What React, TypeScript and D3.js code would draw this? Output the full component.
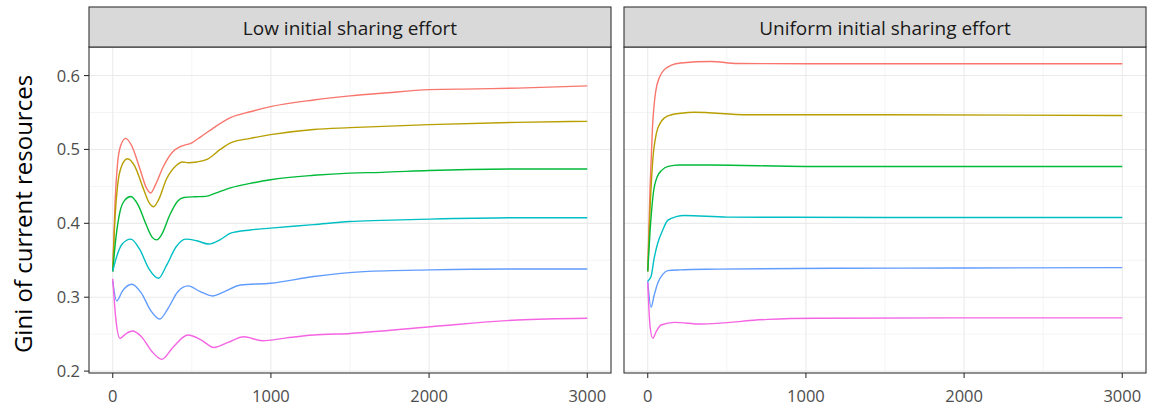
import * as d3 from 'd3'

// time steps and values (panel: low / uniform initial sharing effort)
const colors = ['#F8766D', '#B79F00', '#00BA38', '#00BFC4', '#619CFF', '#F564E3']
const panels = ['Low initial sharing effort', 'Uniform initial sharing effort']
const xTicks = [0, 1000, 2000, 3000]
const yTicks = [0.2, 0.3, 0.4, 0.5, 0.6]

type Pt = [number, number]

const lowRed: Pt[] = [[0, 0.335], [15, 0.43], [30, 0.48], [50, 0.505], [82, 0.515], [120, 0.505], [170, 0.475], [215, 0.447], [240, 0.441], [270, 0.452], [320, 0.477], [380, 0.497], [430, 0.504], [500, 0.509], [556, 0.517], [650, 0.531], [745, 0.543], [870, 0.551], [998, 0.558], [1270, 0.567], [1500, 0.5725], [1700, 0.576], [2000, 0.581], [2300, 0.582], [2558, 0.583], [3000, 0.586]]
const lowOlive: Pt[] = [[0, 0.335], [15, 0.41], [30, 0.45], [55, 0.477], [93, 0.4875], [140, 0.477], [190, 0.449], [230, 0.428], [258, 0.4224], [290, 0.432], [340, 0.46], [400, 0.478], [440, 0.483], [480, 0.482], [530, 0.483], [600, 0.487], [680, 0.5], [745, 0.509], [870, 0.515], [998, 0.52], [1270, 0.527], [1500, 0.5295], [2000, 0.5336], [2558, 0.5367], [3000, 0.538]]
const lowGreen: Pt[] = [[0, 0.335], [20, 0.38], [45, 0.415], [75, 0.431], [114, 0.4363], [160, 0.425], [210, 0.399], [250, 0.381], [278, 0.3776], [310, 0.385], [360, 0.411], [410, 0.43], [450, 0.435], [520, 0.436], [587, 0.4365], [650, 0.441], [745, 0.448], [870, 0.454], [998, 0.459], [1270, 0.465], [1500, 0.468], [1700, 0.469], [2000, 0.4716], [2558, 0.4735], [3000, 0.4735]]
const lowCyan: Pt[] = [[0, 0.335], [25, 0.355], [60, 0.372], [114, 0.3786], [170, 0.365], [230, 0.338], [289, 0.3257], [340, 0.343], [400, 0.368], [461, 0.3786], [530, 0.3765], [606, 0.372], [680, 0.378], [745, 0.3867], [870, 0.391], [998, 0.3935], [1270, 0.3983], [1500, 0.4025], [1700, 0.404], [2000, 0.4057], [2558, 0.4075], [3000, 0.4075]]
const lowBlue: Pt[] = [[0, 0.322], [25, 0.295], [60, 0.308], [120, 0.3176], [180, 0.306], [240, 0.282], [297, 0.2705], [350, 0.285], [410, 0.307], [476, 0.3153], [550, 0.308], [630, 0.3017], [700, 0.307], [808, 0.3166], [998, 0.3189], [1270, 0.328], [1586, 0.3346], [2009, 0.337], [2558, 0.3383], [3000, 0.3383]]
const lowPink: Pt[] = [[0, 0.325], [20, 0.27], [46, 0.2443], [80, 0.25], [124, 0.2542], [180, 0.247], [250, 0.226], [310, 0.2159], [380, 0.232], [476, 0.2488], [560, 0.242], [640, 0.232], [730, 0.239], [829, 0.2465], [945, 0.2411], [1100, 0.245], [1270, 0.2488], [1503, 0.251], [2009, 0.26], [2558, 0.2692], [3000, 0.2715]]

const uniRed: Pt[] = [[0, 0.335], [15, 0.45], [30, 0.53], [50, 0.578], [75, 0.598], [105, 0.608], [150, 0.614], [210, 0.617], [400, 0.619], [567, 0.6163], [1000, 0.616], [2000, 0.616], [3000, 0.616]]
const uniOlive: Pt[] = [[0, 0.335], [15, 0.42], [30, 0.48], [55, 0.522], [80, 0.536], [105, 0.5426], [150, 0.547], [210, 0.549], [294, 0.5503], [630, 0.547], [1500, 0.547], [3000, 0.546]]
const uniGreen: Pt[] = [[0, 0.335], [15, 0.39], [35, 0.44], [60, 0.463], [90, 0.472], [130, 0.477], [200, 0.479], [400, 0.479], [1000, 0.477], [2000, 0.477], [3000, 0.477]]
const uniCyan: Pt[] = [[0, 0.322], [21, 0.328], [40, 0.352], [63, 0.373], [95, 0.391], [126, 0.404], [180, 0.409], [231, 0.4106], [504, 0.4084], [1500, 0.408], [3000, 0.408]]
const uniBlue: Pt[] = [[0, 0.322], [21, 0.2864], [40, 0.302], [63, 0.319], [95, 0.331], [126, 0.336], [200, 0.337], [441, 0.338], [1177, 0.3393], [2000, 0.3395], [3000, 0.34]]
const uniPink: Pt[] = [[0, 0.32], [15, 0.26], [32, 0.2443], [55, 0.254], [84, 0.2624], [168, 0.266], [336, 0.2637], [757, 0.27], [1072, 0.2715], [2000, 0.272], [3000, 0.272]]

const panelSeries = [
  [lowRed, lowOlive, lowGreen, lowCyan, lowBlue, lowPink],
  [uniRed, uniOlive, uniGreen, uniCyan, uniBlue, uniPink],
]

const W = 1150
const H = 407
const top = 47
const bottom = 373
const stripTop = 7
const panelX = [[89, 611], [624, 1146]]
const font = "'Open Sans', 'Noto Sans', sans-serif"

export default function App() {
  const y = d3.scaleLinear().domain([0.2175, 0.6186]).range([bottom, top])
  const yPad = (0.6186 - 0.2175) * 0.05
  y.domain([0.2175 - yPad, 0.6186 + yPad])
  const yMinor = [0.25, 0.35, 0.45, 0.55]
  const xMinor = [500, 1500, 2500]

  return (
    <svg width={W} height={H} style={{ position: 'absolute', left: 0, top: 0, background: '#fff' }} fontFamily={font}>
      <text transform={`translate(32,${(top + bottom) / 2 + 4}) rotate(-90)`} textAnchor="middle" fontSize={24} fill="#000">
        Gini of current resources
      </text>
      {yTicks.map((t) => (
        <g key={t}>
          <text x={80} y={y(t)} dy="0.36em" textAnchor="end" fontSize={16.5} fill="#4D4D4D">{t.toFixed(1)}</text>
          <line x1={84} x2={89} y1={y(t)} y2={y(t)} stroke="#333" strokeWidth={1.1} />
        </g>
      ))}
      {panels.map((title, p) => {
        const [x0, x1] = panelX[p]
        const x = d3.scaleLinear().domain([-150, 3150]).range([x0, x1])
        const line = d3.line<Pt>().x((d) => x(d[0])).y((d) => y(d[1])).curve(d3.curveMonotoneX)
        return (
          <g key={title}>
            <rect x={x0} y={top} width={x1 - x0} height={bottom - top} fill="#fff" />
            {yMinor.map((t) => (
              <line key={'ym' + t} x1={x0} x2={x1} y1={y(t)} y2={y(t)} stroke="#EBEBEB" strokeWidth={0.55} />
            ))}
            {xMinor.map((t) => (
              <line key={'xm' + t} x1={x(t)} x2={x(t)} y1={top} y2={bottom} stroke="#EBEBEB" strokeWidth={0.55} />
            ))}
            {yTicks.map((t) => (
              <line key={'y' + t} x1={x0} x2={x1} y1={y(t)} y2={y(t)} stroke="#EBEBEB" strokeWidth={1.1} />
            ))}
            {xTicks.map((t) => (
              <line key={'x' + t} x1={x(t)} x2={x(t)} y1={top} y2={bottom} stroke="#EBEBEB" strokeWidth={1.1} />
            ))}
            {panelSeries[p].map((s, i) => (
              <path key={i} d={line(s) ?? ''} fill="none" stroke={colors[i]} strokeWidth={1.4} />
            ))}
            <rect x={x0} y={top} width={x1 - x0} height={bottom - top} fill="none" stroke="#333" strokeWidth={1.1} />
            <rect x={x0} y={stripTop} width={x1 - x0} height={top - stripTop} fill="#D9D9D9" stroke="#333" strokeWidth={1.1} />
            <text x={(x0 + x1) / 2} y={(stripTop + top) / 2 + 1} dy="0.36em" textAnchor="middle" fontSize={19} fill="#1A1A1A">
              {title}
            </text>
            {xTicks.map((t) => (
              <g key={'xt' + t}>
                <line x1={x(t)} x2={x(t)} y1={bottom} y2={bottom + 5} stroke="#333" strokeWidth={1.1} />
                <text x={x(t)} y={402} textAnchor="middle" fontSize={16.5} fill="#4D4D4D">{t}</text>
              </g>
            ))}
          </g>
        )
      })}
    </svg>
  )
}
